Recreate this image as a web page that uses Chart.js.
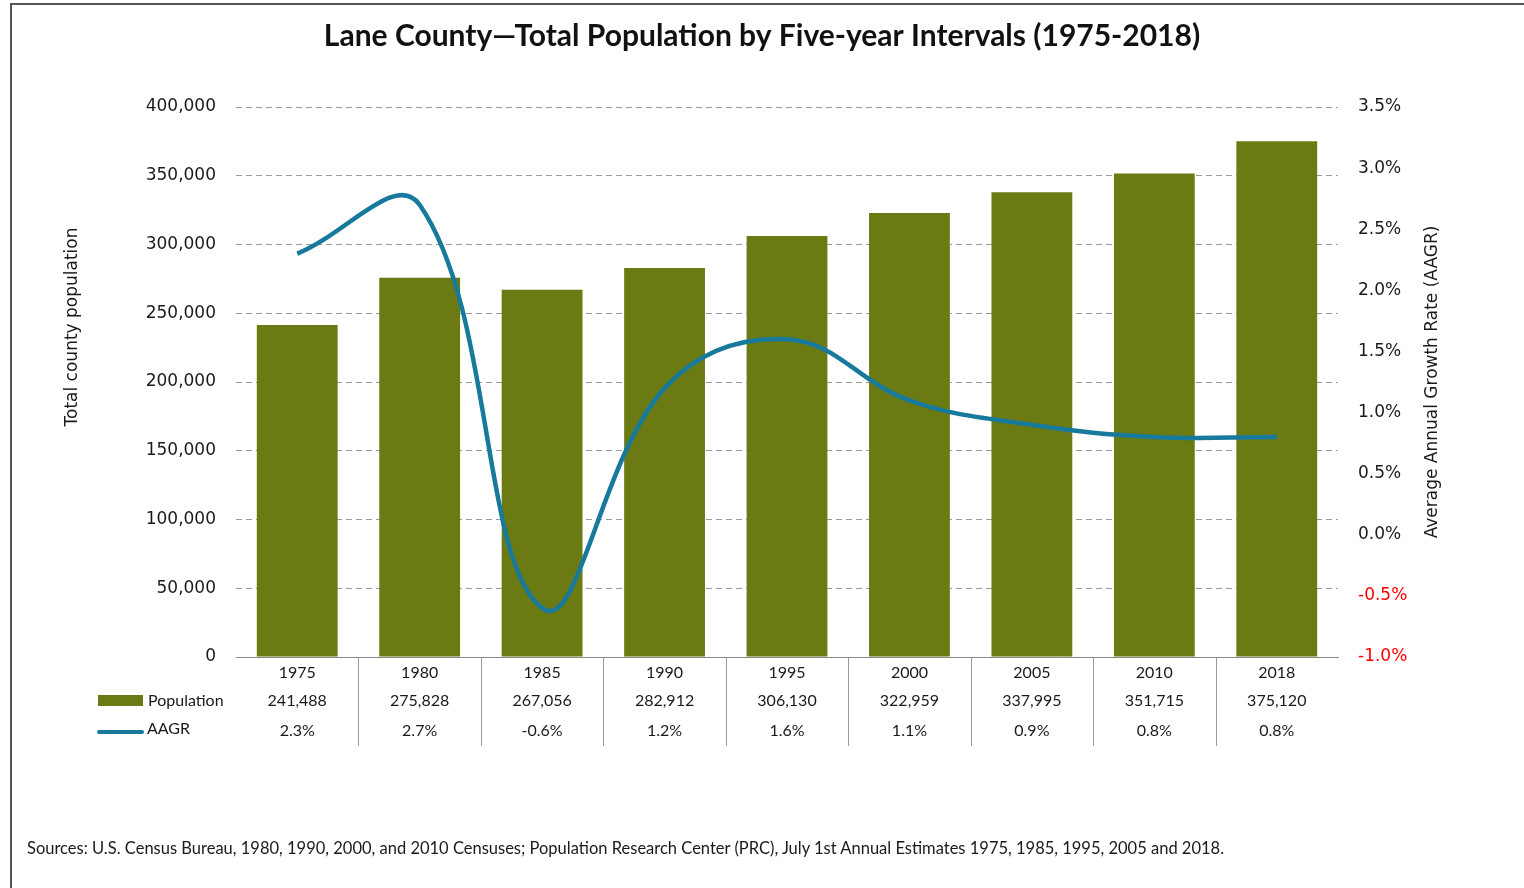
<!DOCTYPE html>
<html>
<head>
    <style>
        html, body {
            margin: 0;
            padding: 0;
            background: #fff;
        }
        .wrap {
            position: relative;
            width: 1524px;
            height: 888px;
            overflow: hidden;
        }
        .frame {
            position: absolute;
            left: 10px;
            top: 3px;
            right: 0;
            bottom: 0;
            border-top: 2px solid #555;
            border-left: 2px solid #555;
            pointer-events: none;
        }
        .source {
            position: absolute;
            left: 27px;
            top: 838px;
            font-family: Lato, sans-serif;
            font-size: 16.5px;
            color: #1a1a1a;
            white-space: nowrap;
        }
    </style>
</head>
<body>
    <div class="wrap">
        <canvas id="popChart" width="1524" height="888"></canvas>
        <div class="frame"></div>
        <div class="source">Sources: U.S. Census Bureau, 1980, 1990, 2000, and 2010 Censuses; Population Research Center (PRC), July 1st Annual Estimates 1975, 1985, 1995, 2005 and 2018.</div>
    </div>

    <script src="https://cdn.jsdelivr.net/npm/chart.js@4.4.1/dist/chart.umd.min.js"></script>
    <script>
        const years = ['1975', '1980', '1985', '1990', '1995', '2000', '2005', '2010', '2018'];
        const population = [241488, 275828, 267056, 282912, 306130, 322959, 337995, 351715, 375120];
        const aagr = [2.3, 2.7, -0.6, 1.2, 1.6, 1.1, 0.9, 0.8, 0.8];

        const barColor = '#6b7a12';
        const lineColor = '#17799b';
        const textColor = '#1a1a1a';
        const tickFont = { family: 'DejaVu Sans', size: 17 };
        const tableFont = '16px Lato, sans-serif';

        function drawVerticalText(ctx, text, cx, cy) {
            ctx.save();
            ctx.translate(cx, cy);
            ctx.rotate(-Math.PI / 2);
            ctx.fillText(text, 0, 0);
            ctx.restore();
        }

        // data table under the x axis: separators, values and the legend keys
        const dataTable = {
            id: 'dataTable',
            afterDraw(chart) {
                const { ctx, chartArea, scales: { x } } = chart;
                const bottom = chartArea.bottom;
                const popY = bottom + 44;
                const rateY = bottom + 74;

                ctx.save();
                ctx.strokeStyle = '#9a9a9a';
                ctx.lineWidth = 1;
                for (let i = 0; i < years.length - 1; i++) {
                    const sx = Math.round((x.getPixelForValue(i) + x.getPixelForValue(i + 1)) / 2) + 0.5;
                    ctx.beginPath();
                    ctx.moveTo(sx, bottom);
                    ctx.lineTo(sx, bottom + 89);
                    ctx.stroke();
                }

                ctx.fillStyle = textColor;
                ctx.font = tableFont;
                ctx.textAlign = 'center';
                ctx.textBaseline = 'middle';
                years.forEach((_, i) => {
                    const cx = x.getPixelForValue(i);
                    ctx.fillText(population[i].toLocaleString('en-US'), cx, popY);
                    ctx.fillText(aagr[i].toFixed(1) + '%', cx, rateY);
                });

                // legend keys
                ctx.fillStyle = barColor;
                ctx.fillRect(98, popY - 6, 45, 11);
                ctx.strokeStyle = lineColor;
                ctx.lineWidth = 4;
                ctx.lineCap = 'round';
                ctx.beginPath();
                ctx.moveTo(99, rateY + 1);
                ctx.lineTo(142, rateY + 1);
                ctx.stroke();

                ctx.fillStyle = textColor;
                ctx.textAlign = 'left';
                ctx.fillText('Population', 148, popY);
                ctx.fillText('AAGR', 147, rateY - 2);

                // axis titles, both read bottom to top
                ctx.font = '17px "DejaVu Sans"';
                ctx.textAlign = 'center';
                drawVerticalText(ctx, 'Total county population', 73, 327);
                drawVerticalText(ctx, 'Average Annual Growth Rate (AAGR)', 1433, 382);
                ctx.restore();
            }
        };

        new Chart(document.getElementById('popChart'), {
            data: {
                labels: years,
                datasets: [
                    {
                        type: 'line',
                        label: 'AAGR',
                        data: aagr,
                        yAxisID: 'y1',
                        borderColor: lineColor,
                        borderWidth: 4.5,
                        tension: 0.4,
                        pointRadius: 0,
                        fill: false,
                        order: 0
                    },
                    {
                        type: 'bar',
                        label: 'Population',
                        data: population,
                        yAxisID: 'y',
                        backgroundColor: barColor,
                        barPercentage: 0.66,
                        categoryPercentage: 1.0,
                        order: 1
                    }
                ]
            },
            options: {
                responsive: false,
                animation: false,
                layout: { padding: 0 },
                plugins: {
                    legend: { display: false },
                    tooltip: { enabled: false },
                    title: {
                        display: true,
                        text: 'Lane County\u2014Total Population by Five-year Intervals (1975-2018)',
                        color: '#111',
                        font: { family: 'Lato', size: 30, weight: 'bold', lineHeight: 1.2 },
                        padding: { top: 18, bottom: 53 }
                    }
                },
                scales: {
                    x: {
                        offset: true,
                        grid: { display: false, drawTicks: false },
                        border: { display: true, color: '#888', width: 1 },
                        ticks: {
                            color: textColor,
                            font: { family: 'Lato', size: 16 },
                            padding: 6
                        },
                        afterFit(scale) { scale.height = 231; }
                    },
                    y: {
                        position: 'left',
                        min: 0,
                        max: 400000,
                        ticks: {
                            stepSize: 50000,
                            color: textColor,
                            font: tickFont,
                            padding: 20,
                            callback: v => v.toLocaleString('en-US')
                        },
                        grid: { color: '#9a9a9a', lineWidth: 1, drawTicks: false },
                        border: { display: false, dash: [6, 4] },
                        afterFit(scale) { scale.width = 236; }
                    },
                    y1: {
                        position: 'right',
                        min: -1,
                        max: 3.5,
                        ticks: {
                            stepSize: 0.5,
                            font: tickFont,
                            padding: 20,
                            color: c => c.tick.value < 0 ? '#ff0000' : textColor,
                            callback: v => v.toFixed(1) + '%'
                        },
                        grid: { display: false, drawTicks: false },
                        border: { display: false },
                        afterFit(scale) { scale.width = 186; }
                    }
                }
            },
            plugins: [dataTable]
        });
    </script>
</body>
</html>
